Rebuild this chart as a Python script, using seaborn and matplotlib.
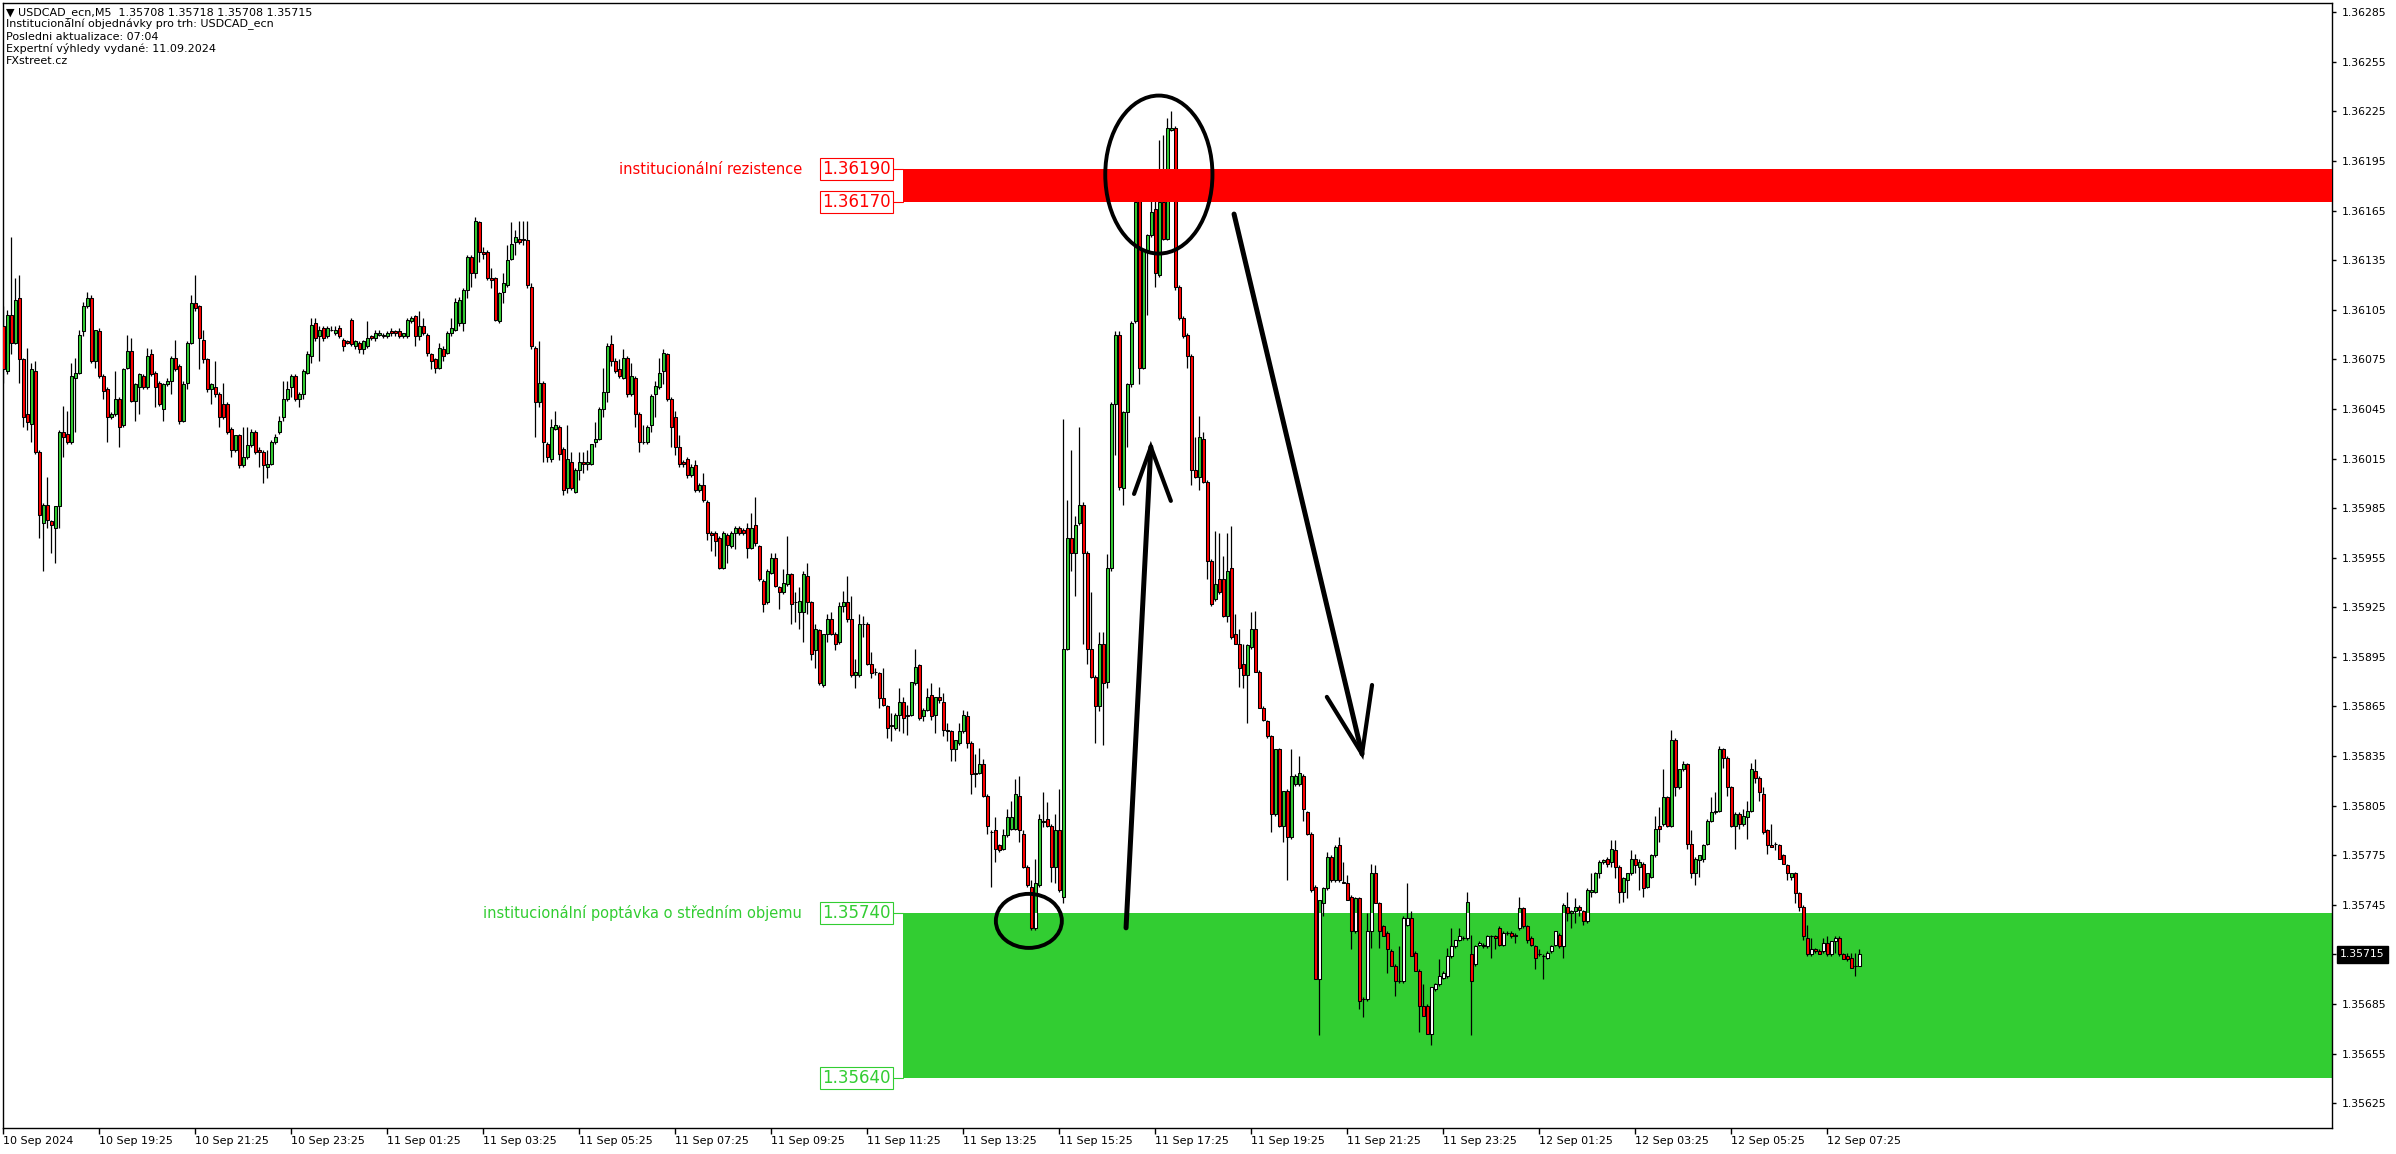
import matplotlib
matplotlib.use("Agg")
import matplotlib.pyplot as plt
from matplotlib.patches import Rectangle, Ellipse
import numpy as np
import pandas as pd
import seaborn as sns

sns.set_theme(style="white")
plt.rcParams["font.family"] = ["DejaVu Sans"]

# USDCAD M5 bars from 10 Sep 2024 17:25, prices in points above 1.35000 (1 point = 0.00001)
bar_open = [
    1095, 1068, 1102, 1085, 1112, 1075, 1042, 1036, 1068, 1019,
    976, 987, 977, 973, 986, 1031, 1030, 1025, 1064, 1067,
    1092, 1107, 1112, 1074, 1092, 1065, 1057, 1040, 1042, 1051,
    1035, 1070, 1080, 1050, 1058, 1065, 1058, 1078, 1067, 1061,
    1045, 1060, 1062, 1076, 1071, 1038, 1061, 1085, 1109, 1107,
    1087, 1075, 1057, 1058, 1054, 1048, 1048, 1033, 1020, 1029,
    1011, 1016, 1023, 1031, 1020, 1019, 1010, 1012, 1025, 1031,
    1040, 1051, 1058, 1065, 1051, 1054, 1067, 1077, 1097, 1089,
    1094, 1089, 1093, 1091, 1094, 1087, 1086, 1099, 1083, 1085,
    1081, 1083, 1089, 1088, 1090, 1090, 1089, 1092, 1092, 1092,
    1089, 1089, 1098, 1101, 1089, 1095, 1090, 1078, 1075, 1070,
    1081, 1079, 1091, 1093, 1097, 1097, 1117, 1137, 1127, 1158,
    1140, 1140, 1124, 1124, 1098, 1116, 1120, 1136, 1146, 1148,
    1148, 1147, 1119, 1082, 1049, 1061, 1024, 1015, 1033, 1034,
    1021, 997, 1013, 995, 1008, 1013, 1012, 1012, 1025, 1027,
    1045, 1055, 1084, 1074, 1069, 1064, 1076, 1054, 1064, 1042,
    1025, 1025, 1035, 1054, 1058, 1068, 1078, 1051, 1040, 1022,
    1013, 1015, 1005, 1011, 996, 999, 989, 970, 970, 967,
    949, 969, 962, 970, 973, 972, 973, 961, 975, 962,
    941, 928, 946, 955, 937, 934, 939, 945, 928, 922,
    922, 944, 928, 899, 911, 878, 909, 918, 909, 904,
    926, 928, 918, 884, 884, 915, 915, 891, 886, 885,
    870, 865, 854, 852, 860, 868, 860, 860, 879, 890,
    859, 863, 872, 860, 871, 868, 851, 850, 839, 843,
    850, 859, 843, 824, 825, 830, 811, 789, 790, 781,
    779, 787, 791, 791, 811, 788, 768, 756, 731, 757,
    796, 797, 793, 768, 790, 750, 900, 967, 958, 976,
    987, 958, 900, 883, 865, 903, 880, 949, 1048, 1090,
    997, 1043, 1060, 1098, 1171, 1070, 1141, 1150, 1166, 1126,
    1170, 1148, 1214, 1215, 1119, 1100, 1090, 1077, 1008, 1004,
    1027, 1001, 953, 930, 942, 942, 920, 949, 909, 903,
    891, 884, 901, 912, 886, 864, 856, 847, 800, 839,
    793, 814, 786, 818, 818, 823, 801, 788, 756, 700,
    746, 755, 774, 760, 781, 759, 758, 750, 729, 749,
    688, 688, 729, 764, 746, 732, 728, 717, 708, 699,
    699, 733, 737, 716, 705, 684, 684, 667, 694, 697,
    701, 702, 714, 720, 724, 725, 725, 715, 709, 721,
    720, 720, 726, 726, 731, 721, 728, 728, 727, 731,
    743, 732, 725, 720, 715, 714, 713, 717, 721, 727,
    720, 744, 740, 741, 744, 741, 735, 753, 753, 764,
    771, 773, 771, 778, 768, 753, 760, 764, 773, 768,
    770, 756, 762, 775, 793, 794, 810, 793, 845, 816,
    827, 830, 782, 764, 772, 773, 782, 796, 801, 802,
    839, 834, 816, 793, 800, 794, 798, 802, 826, 822,
    812, 790, 781, 782, 781, 775, 769, 762, 764, 752,
    744, 725, 715, 718, 717, 717, 722, 715, 723, 725,
    715, 714, 713, 708, 708,
]
bar_high = [
    1107, 1105, 1149, 1124, 1126, 1076, 1082, 1073, 1074, 1020,
    988, 1004, 978, 986, 1032, 1047, 1044, 1073, 1076, 1093,
    1110, 1116, 1114, 1093, 1094, 1066, 1058, 1043, 1068, 1052,
    1070, 1090, 1088, 1061, 1067, 1066, 1082, 1081, 1068, 1062,
    1061, 1064, 1077, 1087, 1072, 1062, 1086, 1114, 1126, 1108,
    1093, 1076, 1061, 1074, 1055, 1061, 1049, 1034, 1029, 1030,
    1034, 1034, 1033, 1032, 1022, 1020, 1020, 1026, 1030, 1041,
    1062, 1062, 1066, 1066, 1055, 1069, 1080, 1100, 1100, 1095,
    1095, 1095, 1095, 1095, 1096, 1088, 1087, 1100, 1087, 1086,
    1087, 1098, 1090, 1093, 1093, 1091, 1092, 1094, 1093, 1094,
    1091, 1100, 1101, 1102, 1104, 1100, 1091, 1079, 1076, 1085,
    1083, 1092, 1100, 1112, 1113, 1118, 1138, 1138, 1161, 1159,
    1143, 1141, 1130, 1125, 1116, 1127, 1144, 1158, 1153, 1159,
    1159, 1159, 1121, 1083, 1086, 1062, 1025, 1039, 1044, 1035,
    1022, 1035, 1019, 1009, 1019, 1019, 1020, 1024, 1037, 1046,
    1070, 1085, 1090, 1076, 1075, 1081, 1077, 1073, 1065, 1043,
    1035, 1035, 1054, 1062, 1076, 1081, 1079, 1052, 1044, 1029,
    1014, 1016, 1012, 1014, 1000, 1006, 990, 971, 971, 968,
    971, 970, 971, 974, 974, 973, 976, 982, 992, 963,
    942, 948, 958, 958, 938, 948, 968, 946, 934, 937,
    947, 952, 929, 915, 912, 909, 921, 922, 910, 928,
    935, 944, 932, 894, 921, 920, 916, 898, 888, 886,
    888, 866, 861, 861, 876, 871, 866, 880, 900, 891,
    864, 876, 879, 871, 877, 873, 855, 851, 845, 855,
    863, 862, 844, 836, 840, 833, 812, 790, 798, 782,
    791, 803, 808, 821, 823, 790, 769, 760, 773, 800,
    813, 807, 794, 800, 815, 1039, 990, 1020, 980, 1034,
    989, 959, 934, 884, 910, 910, 957, 1049, 1092, 1092,
    1044, 1061, 1098, 1174, 1182, 1141, 1151, 1177, 1174, 1208,
    1211, 1221, 1225, 1216, 1120, 1101, 1091, 1078, 1028, 1041,
    1031, 1002, 954, 971, 970, 956, 970, 974, 921, 912,
    903, 903, 922, 923, 887, 865, 857, 848, 839, 840,
    814, 815, 839, 824, 835, 824, 802, 789, 757, 748,
    756, 777, 775, 781, 786, 771, 763, 751, 750, 750,
    689, 740, 770, 769, 747, 733, 729, 718, 709, 720,
    738, 758, 741, 717, 706, 697, 685, 695, 698, 712,
    705, 719, 731, 724, 731, 726, 753, 727, 721, 723,
    722, 727, 727, 727, 732, 729, 729, 729, 728, 750,
    744, 733, 726, 721, 718, 715, 717, 721, 729, 728,
    746, 753, 742, 749, 745, 742, 755, 764, 765, 772,
    773, 774, 784, 784, 769, 762, 764, 778, 776, 773,
    771, 764, 776, 799, 804, 827, 811, 851, 846, 827,
    832, 831, 790, 774, 775, 782, 797, 810, 813, 841,
    840, 835, 817, 801, 801, 803, 808, 831, 833, 823,
    816, 791, 794, 783, 782, 776, 770, 764, 765, 753,
    745, 733, 725, 719, 718, 725, 726, 723, 726, 726,
    716, 716, 716, 716, 718,
]
bar_low = [
    1061, 1066, 1078, 1084, 1061, 1034, 1032, 1025, 1018, 967,
    947, 973, 958, 952, 973, 1016, 1024, 1024, 1031, 1066,
    1089, 1106, 1073, 1070, 1064, 1051, 1025, 1039, 1041, 1022,
    1034, 1069, 1049, 1038, 1042, 1057, 1057, 1065, 1046, 1047,
    1038, 1059, 1054, 1068, 1036, 1037, 1057, 1084, 1104, 1069,
    1073, 1055, 1048, 1052, 1034, 1039, 1030, 1016, 1019, 1009,
    1010, 1015, 1022, 1018, 1010, 1000, 1003, 1011, 1024, 1030,
    1038, 1050, 1052, 1050, 1046, 1051, 1066, 1073, 1086, 1074,
    1086, 1088, 1092, 1090, 1088, 1080, 1084, 1083, 1081, 1079,
    1078, 1082, 1087, 1086, 1089, 1088, 1088, 1089, 1089, 1088,
    1088, 1088, 1097, 1083, 1087, 1090, 1077, 1069, 1067, 1069,
    1074, 1078, 1089, 1092, 1095, 1092, 1112, 1119, 1124, 1134,
    1136, 1123, 1118, 1098, 1097, 1109, 1119, 1135, 1138, 1145,
    1144, 1118, 1081, 1028, 1046, 1013, 1013, 1013, 1032, 1014,
    993, 994, 996, 994, 1002, 1006, 1008, 1011, 1022, 1026,
    1040, 1049, 1071, 1067, 1064, 1063, 1052, 1053, 1034, 1019,
    1024, 1024, 1031, 1040, 1057, 1060, 1050, 1022, 1017, 1010,
    1010, 1003, 1004, 995, 995, 989, 966, 959, 956, 948,
    948, 952, 961, 960, 969, 969, 955, 960, 962, 941,
    922, 927, 945, 937, 924, 933, 938, 915, 916, 912,
    904, 921, 893, 888, 878, 877, 904, 908, 899, 903,
    922, 916, 883, 876, 883, 907, 890, 882, 884, 864,
    865, 846, 844, 851, 850, 849, 848, 859, 878, 857,
    856, 862, 857, 849, 867, 847, 844, 832, 832, 842,
    849, 840, 812, 816, 824, 810, 788, 756, 771, 777,
    778, 786, 790, 790, 783, 767, 756, 730, 730, 756,
    792, 792, 759, 758, 753, 746, 899, 947, 932, 975,
    903, 891, 882, 843, 862, 842, 876, 947, 1017, 996,
    987, 1022, 1058, 1097, 1060, 1069, 1102, 1149, 1119, 1125,
    1147, 1147, 1213, 1117, 1099, 1088, 1070, 999, 1003, 996,
    1000, 942, 926, 929, 933, 919, 916, 906, 903, 877,
    876, 855, 900, 886, 864, 856, 846, 789, 799, 792,
    783, 760, 785, 817, 817, 796, 787, 753, 700, 666,
    738, 754, 759, 759, 759, 758, 748, 718, 728, 682,
    677, 687, 719, 746, 719, 726, 704, 708, 690, 698,
    698, 732, 714, 705, 668, 678, 667, 660, 693, 696,
    700, 701, 713, 719, 723, 724, 724, 666, 708, 720,
    719, 719, 713, 718, 720, 720, 727, 725, 722, 730,
    731, 722, 720, 706, 714, 700, 712, 716, 720, 719,
    713, 735, 731, 734, 738, 733, 734, 750, 752, 761,
    770, 768, 768, 761, 746, 747, 749, 763, 764, 754,
    750, 755, 761, 774, 783, 793, 792, 792, 811, 815,
    826, 779, 761, 757, 762, 771, 781, 795, 800, 801,
    828, 811, 792, 779, 791, 793, 785, 801, 819, 808,
    788, 776, 780, 778, 773, 770, 760, 760, 746, 741,
    724, 714, 714, 716, 715, 716, 714, 714, 716, 714,
    712, 711, 707, 702, 708,
]
bar_close = [
    1069, 1102, 1085, 1111, 1075, 1040, 1037, 1069, 1019, 981,
    987, 978, 975, 986, 1031, 1028, 1025, 1065, 1067, 1090,
    1107, 1112, 1074, 1093, 1065, 1056, 1040, 1042, 1051, 1034,
    1069, 1080, 1050, 1060, 1066, 1058, 1077, 1066, 1058, 1048,
    1060, 1062, 1076, 1069, 1038, 1060, 1085, 1109, 1106, 1088,
    1075, 1057, 1060, 1054, 1040, 1040, 1031, 1020, 1029, 1011,
    1016, 1023, 1031, 1019, 1019, 1011, 1012, 1025, 1028, 1038,
    1051, 1057, 1065, 1051, 1054, 1068, 1078, 1096, 1088, 1093,
    1088, 1094, 1093, 1093, 1089, 1083, 1085, 1084, 1086, 1081,
    1086, 1088, 1088, 1091, 1091, 1089, 1091, 1091, 1091, 1089,
    1091, 1099, 1100, 1089, 1095, 1091, 1079, 1074, 1070, 1082,
    1077, 1091, 1094, 1110, 1111, 1117, 1137, 1127, 1159, 1140,
    1139, 1124, 1123, 1099, 1115, 1121, 1135, 1145, 1149, 1146,
    1147, 1120, 1083, 1049, 1061, 1025, 1016, 1034, 1035, 1018,
    996, 1015, 997, 1008, 1013, 1012, 1013, 1024, 1027, 1045,
    1055, 1083, 1074, 1068, 1065, 1076, 1054, 1065, 1042, 1025,
    1025, 1034, 1053, 1059, 1067, 1079, 1051, 1034, 1022, 1012,
    1012, 1005, 1010, 996, 999, 990, 970, 969, 965, 949,
    970, 963, 970, 973, 970, 970, 961, 973, 964, 942,
    927, 947, 955, 938, 934, 940, 945, 927, 928, 929,
    945, 928, 897, 912, 879, 909, 918, 909, 903, 926,
    928, 918, 884, 886, 915, 915, 891, 885, 886, 870,
    866, 852, 853, 860, 868, 858, 859, 880, 889, 858,
    863, 871, 859, 871, 869, 851, 850, 839, 845, 850,
    860, 843, 824, 825, 830, 811, 793, 789, 779, 778,
    787, 798, 798, 812, 790, 768, 757, 731, 758, 797,
    795, 793, 768, 790, 754, 900, 967, 958, 975, 987,
    958, 900, 883, 865, 903, 879, 949, 1048, 1090, 998,
    1043, 1060, 1097, 1170, 1070, 1141, 1150, 1164, 1127, 1170,
    1148, 1215, 1215, 1119, 1100, 1089, 1077, 1008, 1004, 1028,
    1001, 953, 927, 939, 934, 920, 947, 907, 903, 888,
    884, 902, 912, 886, 864, 857, 847, 800, 839, 793,
    814, 786, 823, 823, 825, 803, 788, 754, 700, 748,
    755, 774, 760, 780, 760, 758, 748, 729, 749, 687,
    688, 729, 764, 746, 729, 726, 718, 708, 699, 699,
    737, 737, 714, 705, 684, 678, 667, 695, 697, 702,
    704, 714, 720, 724, 726, 725, 747, 699, 720, 722,
    721, 726, 726, 725, 721, 728, 728, 726, 726, 743,
    732, 724, 721, 713, 715, 714, 716, 720, 729, 720,
    745, 740, 741, 744, 742, 735, 754, 754, 764, 771,
    772, 770, 779, 768, 753, 761, 764, 773, 769, 771,
    755, 764, 775, 791, 791, 810, 793, 845, 816, 827,
    830, 782, 764, 773, 775, 781, 796, 801, 802, 839,
    834, 816, 793, 800, 794, 799, 802, 827, 822, 813,
    789, 781, 780, 782, 773, 770, 764, 764, 752, 744,
    726, 715, 718, 717, 715, 722, 715, 723, 725, 715,
    712, 712, 707, 708, 715,
]

time_labels = [
    "10 Sep 2024", "10 Sep 19:25", "10 Sep 21:25", "10 Sep 23:25",
    "11 Sep 01:25", "11 Sep 03:25", "11 Sep 05:25", "11 Sep 07:25",
    "11 Sep 09:25", "11 Sep 11:25", "11 Sep 13:25", "11 Sep 15:25",
    "11 Sep 17:25", "11 Sep 19:25", "11 Sep 21:25", "11 Sep 23:25",
    "12 Sep 01:25", "12 Sep 03:25", "12 Sep 05:25", "12 Sep 07:25",
]
price_ticks = [
    1.35625, 1.35655, 1.35685, 1.35715, 1.35745, 1.35775, 1.35805, 1.35835,
    1.35865, 1.35895, 1.35925, 1.35955, 1.35985, 1.36015, 1.36045, 1.36075,
    1.36105, 1.36135, 1.36165, 1.36195, 1.36225, 1.36255, 1.36285,
]
header_lines = [
    "\u25bc USDCAD_ecn,M5  1.35708 1.35718 1.35708 1.35715",
    "Institucionální objednávky pro trh: USDCAD_ecn",
    "Posledni aktualizace: 07:04",
    "Expertní výhledy vydané: 11.09.2024",
    "FXstreet.cz",
]
resistance_zone = (1.36170, 1.36190)
demand_zone = (1.35640, 1.35740)
resistance_text = "institucionální rezistence"
demand_text = "institucionální poptávka o středním objemu"
last_price = 1.35715

# drawing objects (bar index, price)
zone_start = 224.9
small_circle = (256.4, 1.357353, 16.5, 0.000327)
big_circle = (288.9, 1.361868, 26.8, 0.000956)
up_arrow = ([280.7, 286.9], [1.357311, 1.360220])
up_head = ([282.7, 286.9, 291.9], [1.359936, 1.360220, 1.359894])
down_arrow = ([307.7, 339.7], [1.361629, 1.358363])
down_head = ([330.9, 339.7, 342.2], [1.358708, 1.358363, 1.358780])

BULL = "#32CD32"
BEAR = "#FF0000"
GREEN = "#32CD32"
RED = "#FF0000"

df = pd.DataFrame({"open": bar_open, "high": bar_high, "low": bar_low, "close": bar_close})
df = 1.35 + df / 1e5
df["high"] = df[["open", "high", "close"]].max(axis=1)
df["low"] = df[["open", "low", "close"]].min(axis=1)
x = np.arange(len(df))
up = (df["close"] >= df["open"]).values
body_lo = np.minimum(df["open"], df["close"]).values
body_h = np.abs(df["close"] - df["open"]).values

W, H = 2396, 1154
fig = plt.figure(figsize=(W / 100, H / 100), dpi=100)
ax = fig.add_axes([2.5 / W, (H - 1128) / H, (2332 - 2.5) / W, (1128 - 2.5) / H])
xmax = 582.2
ax.set_xlim(-0.2, xmax)
ax.set_ylim(1.356100, 1.362909)
ax.set_facecolor("white")

green_patch = Rectangle((zone_start, demand_zone[0]), xmax - zone_start, demand_zone[1] - demand_zone[0],
                        facecolor=GREEN, edgecolor="none", zorder=1)
ax.add_patch(green_patch)

ax.vlines(x, df["low"], df["high"], color="black", linewidth=0.9, zorder=2)
BODY_W = 0.75
ax.bar(x[up], body_h[up], bottom=body_lo[up], width=BODY_W, color=BULL,
       edgecolor="black", linewidth=0.75, zorder=3)
ax.bar(x[~up], body_h[~up], bottom=body_lo[~up], width=BODY_W, color=BEAR,
       edgecolor="black", linewidth=0.75, zorder=3)
# bull bodies over the demand zone show up white
over = ax.bar(x[up], body_h[up], bottom=body_lo[up], width=BODY_W, color="white",
              edgecolor="black", linewidth=0.75, zorder=3.1)
for p in over.patches:
    p.set_clip_path(green_patch)

ax.add_patch(Rectangle((zone_start, resistance_zone[0]), xmax - zone_start,
                       resistance_zone[1] - resistance_zone[0],
                       facecolor=RED, edgecolor="none", zorder=4))

# level boxes and labels
for level, col in [(resistance_zone[1], RED), (resistance_zone[0], RED),
                   (demand_zone[1], GREEN), (demand_zone[0], GREEN)]:
    ax.annotate(f"{level:.5f}", xy=(zone_start, level), xytext=(-12, 0),
                textcoords="offset pixels", ha="right", va="center", fontsize=12,
                color=col, zorder=5,
                bbox=dict(boxstyle="square,pad=0.12", fc="white", ec=col, lw=0.8))
    ax.plot([zone_start - 2.5, zone_start], [level, level], color=col, lw=0.8, zorder=5)

ax.annotate(resistance_text, xy=(zone_start, resistance_zone[1]), xytext=(-101, 0),
            textcoords="offset pixels", ha="right", va="center", fontsize=10.5, color=RED)
ax.annotate(demand_text, xy=(zone_start, demand_zone[1]), xytext=(-101, 0),
            textcoords="offset pixels", ha="right", va="center", fontsize=10.5, color=GREEN)

# hand drawn marks
for cx, cy, w, h in [small_circle, big_circle]:
    ax.add_patch(Ellipse((cx, cy), w, h, fill=False, edgecolor="black", lw=2.8, zorder=6))
ax.plot(*up_arrow, color="black", lw=3.6, solid_capstyle="round", zorder=6)
ax.plot(*up_head, color="black", lw=3.0, solid_capstyle="round", solid_joinstyle="miter", zorder=6)
ax.plot(*down_arrow, color="black", lw=3.6, solid_capstyle="round", zorder=6)
ax.plot(*down_head, color="black", lw=3.0, solid_capstyle="round", solid_joinstyle="miter", zorder=6)

# axes
ax.set_xticks(np.arange(len(time_labels)) * 24)
ax.set_xticklabels(time_labels)
for lbl in ax.get_xticklabels():
    lbl.set_horizontalalignment("left")
ax.tick_params(axis="x", direction="out", length=4, width=1, pad=2, labelsize=8,
               colors="black", bottom=True)
ax.yaxis.tick_right()
ax.set_yticks(price_ticks)
ax.set_yticklabels([f"{v:.5f}" for v in price_ticks])
ax.tick_params(axis="y", direction="out", length=3, width=1, pad=4, labelsize=7.8,
               colors="black", right=True, left=False)
for s in ax.spines.values():
    s.set_color("black")
    s.set_linewidth(1)
ax.grid(False)

ax.annotate(f"{last_price:.5f}", xy=(1, last_price), xycoords=("axes fraction", "data"),
            xytext=(8, 0), textcoords="offset pixels", ha="left", va="center",
            fontsize=7.8, color="white", annotation_clip=False, zorder=10,
            bbox=dict(boxstyle="square,pad=0.3", fc="black", ec="black"))

for k, line in enumerate(header_lines):
    fig.text(6 / W, 1 - (12.2 + 12.2 * k) / H, line, fontsize=8, color="black",
             ha="left", va="center")

fig.savefig("out.png", dpi=100)
